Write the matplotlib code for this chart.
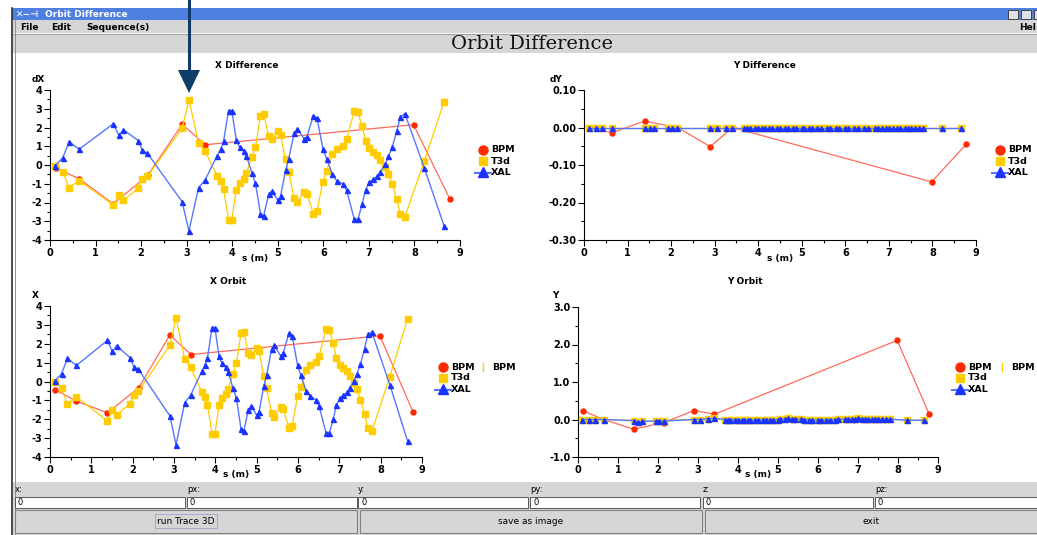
import matplotlib
matplotlib.use("Agg")
import matplotlib.pyplot as plt
from matplotlib.lines import Line2D
from matplotlib.patches import Rectangle, Polygon
from matplotlib.ticker import MultipleLocator, FormatStrFormatter

# ---------------- data ----------------
s_model = [0.11, 0.28, 0.42, 0.64, 1.39, 1.51, 1.61, 1.94, 2.03, 2.14,
           2.90, 3.05, 3.26, 3.40, 3.67, 3.75, 3.81, 3.92, 3.99, 4.09,
           4.16, 4.25, 4.31, 4.43, 4.51, 4.62, 4.69, 4.80, 4.87, 5.00,
           5.06, 5.17, 5.24, 5.36, 5.43, 5.58, 5.64, 5.78, 5.86, 5.99,
           6.07, 6.20, 6.29, 6.43, 6.51, 6.68, 6.76, 6.85, 6.93, 7.01,
           7.10, 7.18, 7.25, 7.36, 7.43, 7.51, 7.61, 7.69, 7.79, 8.22,
           8.65]

dx_xal = [-0.05, 0.39, 1.24, 0.84, 2.20, 1.58, 1.88, 1.30, 0.78, 0.62,
          -1.96, -3.52, -1.21, -0.82, 0.50, 0.85, 1.28, 2.90, 2.90, 1.33,
          0.96, 0.76, 0.50, -0.41, -0.98, -2.60, -2.72, -1.55, -1.39, -1.88,
          -1.67, -0.28, 0.32, 1.70, 1.94, 1.39, 1.51, 2.63, 2.51, 0.87,
          0.34, -0.50, -0.84, -1.01, -1.33, -2.90, -2.90, -2.10, -1.32, -0.92,
          -0.76, -0.60, -0.37, 0.04, 0.46, 0.94, 1.80, 2.56, 2.74, -0.18,
          -3.24]

dx_t3d = [-0.03, -0.37, -1.21, -0.83, -2.13, -1.60, -1.88, -1.24, -0.75, -0.60,
          1.96, 3.47, 1.19, 0.75, -0.57, -0.85, -1.30, -2.92, -2.95, -1.33,
          -0.96, -0.75, -0.44, 0.41, 0.94, 2.63, 2.72, 1.55, 1.39, 1.83,
          1.60, 0.30, -0.36, -1.78, -1.99, -1.42, -1.53, -2.60, -2.47, -0.89,
          -0.30, 0.57, 0.87, 1.03, 1.37, 2.88, 2.84, 2.06, 1.30, 0.89,
          0.69, 0.53, 0.25, -0.12, -0.48, -1.00, -1.83, -2.60, -2.76, 0.23,
          3.38]

dy_xal = [0.00, 0.00, 0.00, 0.00, 0.00, 0.00, 0.00, 0.00, 0.00, 0.00,
          0.00, 0.00, 0.00, 0.00, 0.00, 0.00, 0.00, 0.00, 0.00, 0.00,
          0.00, 0.00, 0.00, 0.00, 0.00, 0.00, 0.00, 0.00, 0.00, 0.00,
          0.00, 0.00, 0.00, 0.00, 0.00, 0.00, 0.00, 0.00, 0.00, 0.00,
          0.00, 0.00, 0.00, 0.00, 0.00, 0.00, 0.00, 0.00, 0.00, 0.00,
          0.00, 0.00, 0.00, 0.00, 0.00, 0.00, 0.00, 0.00, 0.00, 0.00,
          0.00]
dy_t3d = [0.00, 0.00, 0.00, 0.00, 0.00, 0.00, 0.00, 0.00, 0.00, 0.00,
          0.00, 0.00, 0.00, 0.00, 0.00, 0.00, 0.00, 0.00, 0.00, 0.00,
          0.00, 0.00, 0.00, 0.00, 0.00, 0.00, 0.00, 0.00, 0.00, 0.00,
          0.00, 0.00, 0.00, 0.00, 0.00, 0.00, 0.00, 0.00, 0.00, 0.00,
          0.00, 0.00, 0.00, 0.00, 0.00, 0.00, 0.00, 0.00, 0.00, 0.00,
          0.00, 0.00, 0.00, 0.00, 0.00, 0.00, 0.00, 0.00, 0.00, 0.00,
          0.00]

x_orb_xal = [0.02, 0.41, 1.22, 0.85, 2.18, 1.59, 1.89, 1.26, 0.76, 0.64,
             -1.82, -3.35, -1.12, -0.74, 0.53, 0.85, 1.26, 2.85, 2.85, 1.33,
             0.97, 0.76, 0.51, -0.37, -0.88, -2.50, -2.60, -1.49, -1.29, -1.79,
             -1.59, -0.25, 0.32, 1.70, 1.91, 1.36, 1.49, 2.55, 2.41, 0.85,
             0.32, -0.51, -0.78, -0.96, -1.31, -2.73, -2.73, -2.00, -1.27, -0.87,
             -0.73, -0.58, -0.34, 0.05, 0.42, 0.92, 1.73, 2.50, 2.60, -0.16,
             -3.15]

x_orb_t3d = [0.00, -0.37, -1.20, -0.81, -2.09, -1.49, -1.77, -1.17, -0.69, -0.50,
             1.91, 3.36, 1.19, 0.78, -0.55, -0.83, -1.26, -2.76, -2.80, -1.26,
             -0.88, -0.64, -0.39, 0.42, 0.97, 2.55, 2.64, 1.49, 1.38, 1.79,
             1.59, 0.28, -0.32, -1.66, -1.87, -1.36, -1.45, -2.44, -2.34, -0.78,
             -0.28, 0.60, 0.87, 1.01, 1.35, 2.80, 2.73, 2.02, 1.24, 0.88,
             0.73, 0.55, 0.27, -0.09, -0.42, -0.96, -1.72, -2.48, -2.62, 0.25,
             3.31]

y_orb_xal = [0.00, 0.00, 0.00, 0.00, -0.03, -0.07, -0.05, -0.04, -0.04, -0.04,
             0.00, 0.00, 0.02, 0.03, 0.00, 0.00, 0.00, -0.01, -0.01, -0.01,
             -0.01, -0.01, -0.01, -0.01, -0.01, 0.00, 0.00, 0.00, 0.00, 0.00,
             0.01, 0.02, 0.03, 0.01, 0.01, 0.01, 0.00, -0.01, -0.01, -0.01,
             -0.01, -0.01, -0.01, 0.00, 0.01, 0.01, 0.01, 0.01, 0.02, 0.03,
             0.01, 0.01, 0.01, 0.01, 0.01, 0.01, 0.01, 0.01, 0.01, -0.02,
             -0.02]
y_orb_t3d = [0.00, 0.00, 0.00, 0.00, -0.03, -0.06, -0.05, -0.04, -0.04, -0.03,
             0.00, 0.00, 0.02, 0.03, 0.00, 0.00, 0.00, -0.01, -0.01, -0.01,
             -0.01, -0.01, -0.01, -0.01, -0.01, 0.00, 0.00, 0.00, 0.00, 0.00,
             0.01, 0.02, 0.03, 0.01, 0.01, 0.01, 0.00, -0.01, -0.01, -0.01,
             -0.01, -0.01, -0.01, 0.00, 0.01, 0.01, 0.01, 0.01, 0.02, 0.03,
             0.01, 0.01, 0.01, 0.01, 0.01, 0.01, 0.01, 0.01, 0.01, -0.02,
             -0.02]

s_bpm = [0.13, 0.64, 1.39, 2.15, 2.90, 3.41, 7.98, 8.78]
dx_bpm = [-0.18, -0.73, -2.08, -0.53, 2.17, 1.08, 2.15, -1.83]
dy_bpm = [0.000, -0.014, 0.017, 0.000, -0.051, 0.000, -0.145, -0.044]
x_orb_bpm = [-0.44, -1.04, -1.66, -0.32, 2.46, 1.43, 2.42, -1.59]
y_orb_bpm = [0.23, 0.00, -0.26, -0.08, 0.24, 0.14, 2.11, 0.14]

series_names = ["BPM", "T3d", "XAL"]

# ---------------- figure ----------------
W, H = 1037, 535
fig = plt.figure(figsize=(W / 100, H / 100), dpi=100)
fig.patch.set_facecolor("white")

def fx(x):
    return x / W

def fy(y):
    return 1 - y / H

def rect(x0, y0, x1, y1, fc, ec="none", lw=0, z=-10):
    fig.patches.append(Rectangle((fx(x0), fy(y1)), (x1 - x0) / W, (y1 - y0) / H,
                                 transform=fig.transFigure, facecolor=fc,
                                 edgecolor=ec, linewidth=lw, zorder=z))

def hline(x0, x1, y, color, lw=0.8, z=-5):
    fig.lines.append(Line2D([fx(x0), fx(x1)], [fy(y), fy(y)], transform=fig.transFigure,
                            color=color, linewidth=lw, zorder=z))

def vline(x, y0, y1, color, lw=0.8, z=-5):
    fig.lines.append(Line2D([fx(x), fx(x)], [fy(y0), fy(y1)], transform=fig.transFigure,
                            color=color, linewidth=lw, zorder=z))

GRAY = "#d6d6d6"

# window chrome
rect(12, 8, W + 2, 20, "#4f80e0")                 # title bar
rect(12, 20, W + 2, 33, GRAY)                     # menu bar
hline(12, W, 33.5, "#a0a0a0", 0.8)
rect(12, 34, W + 2, 53, GRAY)                     # header
rect(14, 53, W + 2, 482, "white")                 # plot area
rect(12, 482, W + 2, H + 2, GRAY)                 # bottom panel
vline(12, 8, H, "#303030", 1.2)
vline(14.5, 20, H, "#909090", 0.7)

fig.text(fx(16), fy(14.5), "\u2715\u2212\u22a3", color="white", fontsize=6.5,
         fontweight="bold", va="center", ha="left")
fig.text(fx(45), fy(14.5), "Orbit Difference", color="white", fontsize=6.5,
         fontweight="bold", va="center", ha="left")
rect(1008, 10, 1018, 19, "#e0e0e0", "#303030", 0.6, z=-4)
rect(1021, 10, 1031, 19, "#e0e0e0", "#303030", 0.6, z=-4)
rect(1034, 10, 1044, 19, "#e0e0e0", "#303030", 0.6, z=-4)

for txt, x in [("File", 20), ("Edit", 51), ("Sequence(s)", 86), ("Hel", 1019)]:
    fig.text(fx(x), fy(27), txt, fontsize=6.5, fontweight="bold", va="center",
             ha="left", color="black")

fig.text(fx(532), fy(44), "Orbit Difference", fontsize=14, family="DejaVu Serif",
         va="center", ha="center", color="#111111")

# bottom fields
labels = ["x:", "px:", "y:", "py:", "z:", "pz:"]
xs = [15, 187, 358, 530, 703, 875]
for lab, x in zip(labels, xs):
    fig.text(fx(x), fy(490), lab, fontsize=6, va="center", ha="left")
    x1 = x + 170 if x != 875 else W + 2
    rect(x, 497, x1, 508, "white", "#404040", 0.6, z=-4)
    fig.text(fx(x + 3), fy(502.5), "0", fontsize=6, va="center", ha="left")

buttons = [("run Trace 3D", 15, 357), ("save as image", 360, 702), ("exit", 705, W + 2)]
for txt, x0, x1 in buttons:
    rect(x0, 510, x1, 533, GRAY, "#808080", 0.8, z=-4)
    cx = (x0 + min(x1, W)) / 2
    fig.text(fx(cx), fy(521), txt, fontsize=6.5, va="center", ha="center",
             bbox=dict(boxstyle="square,pad=0.25", fc="none", ec="#a0a0d0", lw=0.6)
             if txt == "run Trace 3D" else None)

# ---------------- axes ----------------
def make_ax(x0, y0, x1, y1):
    ax = fig.add_axes([fx(x0), fy(y1), (x1 - x0) / W, (y1 - y0) / H], facecolor="none")
    ax.set_zorder(2)
    return ax

RED_L, RED_M = "#ff6a5a", "#ff2a00"
YEL = "#ffcc00"
BLUE_L, BLUE_M = "#5577ff", "#1a33ff"

def draw(ax, bpm_y, t3d_y, xal_y):
    ax.plot(s_bpm, bpm_y, color=RED_L, lw=0.9, marker="o", ms=3.6,
            mfc=RED_M, mec=RED_M, zorder=2, clip_on=False)
    ax.plot(s_model, t3d_y, color=YEL, lw=0.9, marker="s", ms=4.2,
            mfc=YEL, mec=YEL, zorder=3, clip_on=False)
    ax.plot(s_model, xal_y, color=BLUE_L, lw=1.0, marker="^", ms=3.6,
            mfc=BLUE_M, mec=BLUE_M, zorder=4, clip_on=False)

def style(ax, ylim, ymaj, ymin, yfmt):
    ax.set_xlim(0, 9)
    ax.set_ylim(*ylim)
    for sp in ["top", "right"]:
        ax.spines[sp].set_visible(False)
    for sp in ["left", "bottom"]:
        ax.spines[sp].set_linewidth(0.8)
    ax.xaxis.set_major_locator(MultipleLocator(1))
    ax.xaxis.set_minor_locator(MultipleLocator(0.5))
    ax.yaxis.set_major_locator(MultipleLocator(ymaj))
    ax.yaxis.set_minor_locator(MultipleLocator(ymin))
    ax.yaxis.set_major_formatter(FormatStrFormatter(yfmt))
    ax.tick_params(which="major", length=4, width=0.8, direction="out",
                   labelsize=7, pad=1.5)
    ax.tick_params(which="minor", length=2, width=0.8, direction="out")
    for t in ax.get_xticklabels() + ax.get_yticklabels():
        t.set_fontweight("bold")

def deco(ax, title, ylab, tx, ty, lx, ly, xl_y):
    fig.text(fx(tx), fy(ty), title, fontsize=6.5, fontweight="bold", ha="center", va="center")
    fig.text(fx(lx), fy(ly), ylab, fontsize=6.5, fontweight="bold", ha="left", va="center")
    bb = ax.get_position()
    fig.text((bb.x0 + bb.x1) / 2, fy(xl_y), "s (m)", fontsize=6.5, fontweight="bold",
             ha="center", va="center")

def legend(x, y, second=None):
    markers = [("o", RED_M, RED_L), ("s", YEL, YEL), ("^", BLUE_M, BLUE_L)]
    sizes = [6.5, 6.0, 6.5]
    for i, (name, (m, mc, lc)) in enumerate(zip(series_names, markers)):
        yy = y + i * 11
        if m == "^":
            fig.lines.append(Line2D([fx(x - 8), fx(x + 8)], [fy(yy + 1), fy(yy + 1)],
                                    transform=fig.transFigure, color=lc, lw=1.5))
        fig.lines.append(Line2D([fx(x)], [fy(yy)], transform=fig.transFigure,
                                marker=m, ms=sizes[i], mfc=mc, mec=mc, lw=0))
        fig.text(fx(x + 8), fy(yy), name, fontsize=6.8, fontweight="bold",
                 ha="left", va="center")
    if second is not None:
        fig.lines.append(Line2D([fx(second), fx(second)], [fy(y - 4), fy(y + 4)],
                                transform=fig.transFigure, color=YEL, lw=1.0))
        fig.text(fx(second + 9), fy(y), "BPM", fontsize=6.8, fontweight="bold",
                 ha="left", va="center")

# X Difference
ax1 = make_ax(50, 90, 460, 240)
draw(ax1, dx_bpm, dx_t3d, dx_xal)
style(ax1, (-4, 4), 1, 0.5, "%d")
deco(ax1, "X Difference", "dX", 247, 65, 32, 79, 258)
legend(483, 150)

# Y Difference
ax2 = make_ax(584, 90, 976, 240)
draw(ax2, dy_bpm, dy_t3d, dy_xal)
style(ax2, (-0.30, 0.10), 0.10, 0.05, "%.2f")
deco(ax2, "Y Difference", "dY", 765, 65, 550, 79, 258)
legend(1000, 150)

# X Orbit
ax3 = make_ax(50, 306, 422, 457)
draw(ax3, x_orb_bpm, x_orb_t3d, x_orb_xal)
style(ax3, (-4, 4), 1, 0.5, "%d")
deco(ax3, "X Orbit", "X", 228, 281, 32, 295, 474)
legend(443, 367, second=483)

# Y Orbit
ax4 = make_ax(578, 307, 938, 457)
draw(ax4, y_orb_bpm, y_orb_t3d, y_orb_xal)
style(ax4, (-1.0, 3.0), 1.0, 0.5, "%.1f")
deco(ax4, "Y Orbit", "Y", 745, 281, 552, 295, 474)
legend(960, 367, second=1002)

# annotation arrow (overlay)
fig.lines.append(Line2D([fx(189), fx(189)], [fy(0), fy(72)], transform=fig.transFigure,
                        color="#0e3d6a", lw=2.2, zorder=10))
fig.patches.append(Polygon([(fx(178), fy(70)), (fx(200), fy(70)), (fx(189), fy(93))],
                           closed=True, transform=fig.transFigure, facecolor="#0e3d6a",
                           edgecolor="none", zorder=10))

fig.savefig("out.png", dpi=100)
